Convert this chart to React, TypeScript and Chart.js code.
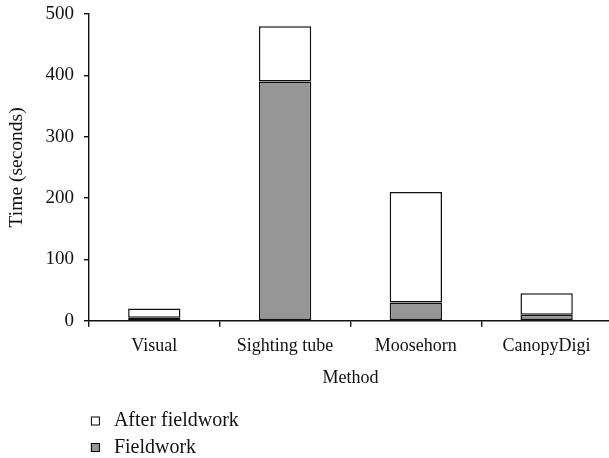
import React, { useEffect, useRef } from "react";
import { Chart, registerables } from "chart.js";

Chart.register(...registerables);

const categories = ["Visual", "Sighting tube", "Moosehorn", "CanopyDigi"];
const fieldwork = [5, 390, 30, 10];
const afterFieldwork = [15, 90, 180, 35];
const yTicks = [0, 100, 200, 300, 400, 500];

const FONT = "'Liberation Serif', 'Times New Roman', serif";
const GRAY = "#969696";

const legendPlugin = {
  id: "stackLegend",
  afterDraw(chart: any) {
    const ctx = chart.ctx;
    const items = chart.data.datasets.slice().reverse();
    const x0 = chart.chartArea.left + 2;
    const rowH = 26.5;
    const firstY = chart.height - 37;
    ctx.save();
    ctx.font = `20px ${FONT}`;
    ctx.textBaseline = "middle";
    items.forEach((ds: any, i: number) => {
      const cy = firstY + i * rowH;
      ctx.fillStyle = ds.backgroundColor;
      ctx.fillRect(x0, cy - 4.5, 9, 9);
      ctx.strokeStyle = "#000";
      ctx.lineWidth = 1;
      ctx.strokeRect(x0 + 0.5, cy - 4, 8, 8);
      ctx.fillStyle = "#111";
      ctx.fillText(ds.label, x0 + 23, cy);
    });
    ctx.restore();
  },
};

export default function App() {
  const ref = useRef<HTMLCanvasElement>(null);
  useEffect(() => {
    if (!ref.current) return;
    const chart = new Chart(ref.current, {
      type: "bar",
      data: {
        labels: categories,
        datasets: [
          {
            label: "Fieldwork",
            data: fieldwork,
            backgroundColor: GRAY,
            borderColor: "#111",
            borderWidth: 1.5,
            borderSkipped: false,
            barPercentage: 0.4,
            categoryPercentage: 1,
          },
          {
            label: "After fieldwork",
            data: afterFieldwork,
            backgroundColor: "#ffffff",
            borderColor: "#111",
            borderWidth: 1.5,
            borderSkipped: false,
            barPercentage: 0.4,
            categoryPercentage: 1,
          },
        ],
      },
      options: {
        animation: false,
        responsive: false,
        devicePixelRatio: 1,
        layout: { padding: { top: 0, right: 6, bottom: 69, left: 5 } },
        plugins: { legend: { display: false }, tooltip: { enabled: false } },
        scales: {
          x: {
            stacked: true,
            grid: {
              display: true,
              offset: true,
              drawOnChartArea: false,
              drawTicks: true,
              tickLength: 6,
              color: "#111",
              lineWidth: 1.4,
            },
            border: { display: true, color: "#111", width: 1.4 },
            ticks: { color: "#111", font: { family: FONT, size: 18 }, padding: 9 },
            title: {
              display: true,
              text: "Method",
              color: "#111",
              font: { family: FONT, size: 18 },
              padding: { top: 1, bottom: 0 },
            },
          },
          y: {
            stacked: true,
            min: 0,
            max: 500,
            afterBuildTicks: (axis: any) => {
              axis.ticks = yTicks.map((v) => ({ value: v }));
            },
            afterFit: (axis: any) => {
              axis.paddingTop = 14;
            },
            grid: {
              display: true,
              drawOnChartArea: false,
              drawTicks: true,
              tickLength: 5,
              color: "#111",
              lineWidth: 1.4,
            },
            border: { display: true, color: "#111", width: 1.4 },
            ticks: { color: "#111", font: { family: FONT, size: 19, lineHeight: 1 }, padding: 10 },
            title: {
              display: true,
              text: "Time (seconds)",
              color: "#111",
              font: { family: FONT, size: 19.5 },
              padding: { top: 0, bottom: 7 },
            },
          },
        },
      },
      plugins: [legendPlugin],
    });
    return () => chart.destroy();
  }, []);
  return (
    <div style={{ position: "fixed", top: 0, left: 0, width: 609, height: 458, overflow: "hidden", background: "#fff" }}>
      <canvas ref={ref} width={618} height={458} style={{ display: "block" }} />
    </div>
  );
}
